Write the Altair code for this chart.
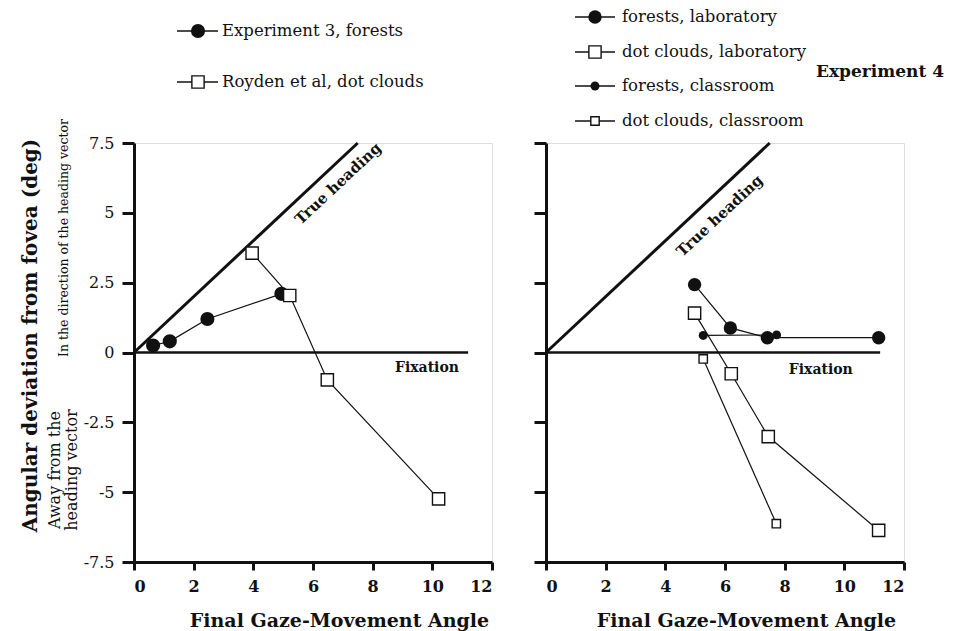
import altair as alt
import pandas as pd

# ---------------- data ----------------
x_ticks = [0, 2, 4, 6, 8, 10, 12]
y_ticks = [-7.5, -5, -2.5, 0, 2.5, 5, 7.5]

heading_x = [0, 7.5]
heading_y = [0, 7.5]
fixation_x = [0, 11.2]
fixation_y = [0, 0]

# Experiment 3 (left panel)
exp3_forest_x = [0.64, 1.2, 2.46, 4.94]
exp3_forest_y = [0.25, 0.40, 1.2, 2.1]
royden_dots_x = [3.96, 5.22, 6.48, 10.21]
royden_dots_y = [3.56, 2.04, -0.98, -5.24]

# Experiment 4 (right panel)
lab_forest_x = [4.98, 6.18, 7.42, 11.15]
lab_forest_y = [2.43, 0.88, 0.53, 0.53]
lab_dots_x = [4.98, 6.21, 7.45, 11.15]
lab_dots_y = [1.41, -0.76, -3.01, -6.37]
class_forest_x = [5.27, 7.73]
class_forest_y = [0.61, 0.63]
class_dots_x = [5.27, 7.72]
class_dots_y = [-0.23, -6.13]

left_legend = ["Experiment 3, forests", "Royden et al, dot clouds"]
right_legend = ["forests, laboratory", "dot clouds, laboratory",
                "forests, classroom", "dot clouds, classroom"]

FONT = "DejaVu Serif"
INK = "#111111"
W, H = 358, 419

xscale = alt.Scale(domain=[0, 12], nice=False, zero=False)
yscale = alt.Scale(domain=[-7.5, 7.5], nice=False, zero=False)


def xy(xs, ys):
    return pd.DataFrame({"x": xs, "y": ys})


def series(xs, ys, filled, size, sw=1.2):
    df = xy(xs, ys)
    base = alt.Chart(df).encode(
        x=alt.X("x:Q", scale=xscale),
        y=alt.Y("y:Q", scale=yscale),
    )
    line = base.mark_line(color=INK, strokeWidth=sw)
    if filled:
        pts = base.mark_point(shape="circle", filled=True, fill=INK, color=INK,
                              size=size, opacity=1, strokeWidth=0)
    else:
        pts = base.mark_point(shape="square", filled=True, fill="white", stroke=INK,
                              size=size, opacity=1, strokeWidth=1.4)
    return [line, pts]


def legend_item(label, yy, x0, x1, xm, xt, filled, size):
    one = pd.DataFrame({"k": [0]})
    rule = alt.Chart(one).mark_rule(color=INK, strokeWidth=1.4).encode(
        x=alt.value(x0), x2=alt.value(x1), y=alt.value(yy))
    if filled:
        pt = alt.Chart(one).mark_point(shape="circle", filled=True, fill=INK, color=INK,
                                       size=size, opacity=1, strokeWidth=0)
    else:
        pt = alt.Chart(one).mark_point(shape="square", filled=True, fill="white",
                                       stroke=INK, size=size, opacity=1, strokeWidth=1.4)
    pt = pt.encode(x=alt.value(xm), y=alt.value(yy))
    txt = alt.Chart(one).mark_text(text=label, align="left", baseline="middle",
                                   font=FONT, fontSize=16.5, color=INK).encode(
        x=alt.value(xt), y=alt.value(yy))
    return [rule, pt, txt]


def panel(show_ylabels, series_layers, legend_layers, heading_pos, fix_pos, extra, title_x):
    heading = alt.Chart(xy(heading_x, heading_y)).mark_line(color=INK, strokeWidth=3).encode(
        x=alt.X("x:Q", scale=xscale,
                axis=alt.Axis(values=x_ticks, title="Final Gaze-Movement Angle",
                              titleFont=FONT, titleFontSize=19, titleFontWeight="bold",
                              titleColor=INK, titleX=title_x, titleY=58,
                              titleBaseline="middle", titleAlign="center",
                              labelFont=FONT, labelFontSize=16, labelColor=INK,
                              labelFontWeight="bold", labelPadding=8,
                              tickSize=8, tickWidth=3, tickColor=INK,
                              domainWidth=3, domainColor=INK, grid=False)),
        y=alt.Y("y:Q", scale=yscale,
                axis=alt.Axis(values=y_ticks,
                              title="Angular deviation from fovea (deg)" if show_ylabels else None,
                              titleFont=FONT, titleFontSize=20, titleFontWeight="bold",
                              titleColor=INK, titleX=-104, titleY=192, titleAngle=270,
                              titleBaseline="middle", titleAlign="center",
                              labels=show_ylabels, labelExpr="'' + datum.value",
                              labelFont=FONT, labelFontSize=16, labelColor=INK,
                              labelPadding=8,
                              tickSize=12, tickWidth=3, tickColor=INK,
                              domainWidth=3, domainColor=INK, grid=False)),
    )
    fixation = alt.Chart(xy(fixation_x, fixation_y)).mark_line(color=INK, strokeWidth=2.5).encode(
        x=alt.X("x:Q", scale=xscale), y=alt.Y("y:Q", scale=yscale))
    hx, hy = heading_pos
    fx, fy = fix_pos
    htext = alt.Chart(pd.DataFrame({"x": [hx], "y": [hy]})).mark_text(
        text="True heading", angle=317, font=FONT, fontSize=15, fontWeight="bold",
        color=INK, align="center", baseline="middle").encode(
        x=alt.X("x:Q", scale=xscale), y=alt.Y("y:Q", scale=yscale))
    ftext = alt.Chart(pd.DataFrame({"x": [fx], "y": [fy]})).mark_text(
        text="Fixation", font=FONT, fontSize=14, fontWeight="bold",
        color=INK, align="center", baseline="middle").encode(
        x=alt.X("x:Q", scale=xscale), y=alt.Y("y:Q", scale=yscale))
    layers = [heading, fixation, htext, ftext] + series_layers + legend_layers + extra
    return alt.layer(*layers).properties(width=W, height=H)


# left panel
left_series = (series(exp3_forest_x, exp3_forest_y, True, 200)
               + series(royden_dots_x, royden_dots_y, False, 150))
left_leg = (legend_item(left_legend[0], -112, 43, 84, 64, 88, True, 200)
            + legend_item(left_legend[1], -61, 43, 84, 64, 88, False, 150))
one = pd.DataFrame({"k": [0]})
ylab1 = alt.Chart(one).mark_text(text="In the direction of the heading vector", angle=270,
                                 font=FONT, fontSize=12.5, color=INK,
                                 align="center", baseline="middle").encode(
    x=alt.value(-70), y=alt.value(95))
ylab2 = alt.Chart(one).mark_text(text="Away from the", angle=270,
                                 font=FONT, fontSize=16, color=INK,
                                 align="center", baseline="middle").encode(
    x=alt.value(-79), y=alt.value(327))
ylab3 = alt.Chart(one).mark_text(text="heading vector", angle=270,
                                 font=FONT, fontSize=16, color=INK,
                                 align="center", baseline="middle").encode(
    x=alt.value(-62), y=alt.value(327))
left = panel(True, left_series, left_leg, (6.84, 6.05), (9.82, -0.54),
             [ylab1, ylab2, ylab3], 205)

# right panel
right_series = (series(lab_forest_x, lab_forest_y, True, 180)
                + series(lab_dots_x, lab_dots_y, False, 150)
                + series(class_forest_x, class_forest_y, True, 80)
                + series(class_dots_x, class_dots_y, False, 70))
right_leg = (legend_item(right_legend[0], -126, 29, 69, 49, 76, True, 180)
             + legend_item(right_legend[1], -91, 29, 69, 49, 76, False, 150)
             + legend_item(right_legend[2], -57, 29, 69, 49, 76, True, 80)
             + legend_item(right_legend[3], -22, 29, 69, 49, 76, False, 70))
exp4 = alt.Chart(one).mark_text(text="Experiment 4", font=FONT, fontSize=17,
                                fontWeight="bold", color=INK, align="right",
                                baseline="middle").encode(
    x=alt.value(398), y=alt.value(-71))
right = panel(False, right_series, right_leg, (5.82, 4.9), (9.21, -0.61), [exp4], 200)

chart = alt.hconcat(left, right, spacing=54, bounds="flush").properties(
    padding={"left": 11, "top": 0, "right": 0, "bottom": 0}
).configure_view(stroke=None).configure(background="white").configure_axis(
    labelFont=FONT, titleFont=FONT)

chart.save("out.html", embed_options={"renderer": "svg", "actions": False})
